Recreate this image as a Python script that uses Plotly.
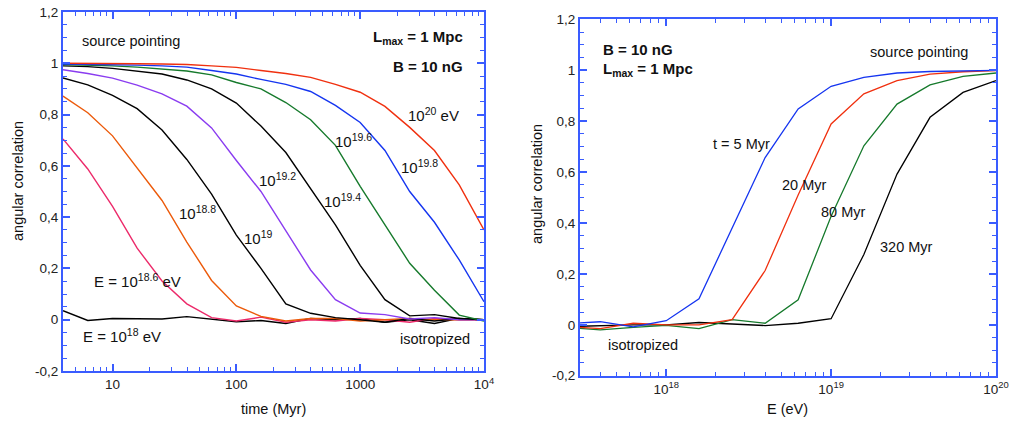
import plotly.graph_objects as go

# ---------------- data: left panel (angular correlation vs time) ----------------
times_myr = [3.98, 6.31, 10, 15.8, 25.1, 39.8, 63.1, 100, 158, 251, 398, 631,
             1000, 1585, 2512, 3981, 6310, 10000]

corr_e18_0 = [0.035, -0.003, 0.005, 0.005, 0.003, 0.012, 0.002, -0.008, -0.003, -0.015,
              0.005, 0.0, 0.005, -0.01, 0.0, -0.015, 0.005, 0.0]
corr_e18_6 = [0.705, 0.588, 0.442, 0.279, 0.151, 0.062, 0.008, -0.005, 0.01, -0.01,
              0.0, -0.005, 0.005, 0.0, -0.01, 0.005, 0.0, 0.0]
corr_e18_8 = [0.872, 0.807, 0.717, 0.592, 0.465, 0.303, 0.153, 0.054, 0.013, -0.005,
              0.005, 0.005, -0.005, 0.0, 0.005, 0.0, 0.0, 0.0]
corr_e19_0 = [0.943, 0.916, 0.875, 0.823, 0.74, 0.625, 0.49, 0.33, 0.20, 0.062,
              0.025, 0.008, 0.0, -0.01, 0.005, -0.005, 0.005, 0.0]
corr_e19_2 = [0.975, 0.96, 0.942, 0.915, 0.881, 0.833, 0.748, 0.621, 0.50, 0.345,
              0.194, 0.078, 0.026, 0.02, 0.003, 0.008, 0.0, 0.0]
corr_e19_4 = [0.99, 0.987, 0.98, 0.97, 0.958, 0.935, 0.9, 0.845, 0.755, 0.652,
              0.51, 0.37, 0.212, 0.078, 0.015, 0.02, 0.005, 0.0]
corr_e19_6 = [0.995, 0.993, 0.99, 0.985, 0.978, 0.97, 0.955, 0.925, 0.90, 0.847,
              0.78, 0.68, 0.52, 0.37, 0.22, 0.115, 0.018, -0.005]
corr_e19_8 = [0.997, 0.996, 0.995, 0.993, 0.99, 0.985, 0.972, 0.958, 0.937, 0.918,
              0.89, 0.836, 0.769, 0.66, 0.50, 0.38, 0.233, 0.07]
corr_e20_0 = [1.0, 1.0, 0.999, 0.998, 0.997, 0.995, 0.99, 0.984, 0.972, 0.96,
              0.945, 0.918, 0.887, 0.832, 0.75, 0.66, 0.526, 0.35]

# ---------------- data: right panel (angular correlation vs energy) ----------------
energies_ev = [2.51e17, 3.98e17, 6.31e17, 1e18, 1.58e18, 2.51e18, 3.98e18, 6.31e18,
               1e19, 1.58e19, 2.51e19, 3.98e19, 6.31e19, 1e20]

corr_t5 = [0.005, 0.012, -0.008, 0.016, 0.102, 0.38, 0.657, 0.848, 0.937, 0.972,
           0.989, 0.995, 0.998, 0.999]
corr_t20 = [-0.007, -0.015, 0.006, 0.0, 0.0, 0.02, 0.213, 0.51, 0.789, 0.907,
            0.959, 0.985, 0.994, 0.998]
corr_t80 = [-0.01, -0.02, -0.01, -0.002, -0.015, 0.02, 0.006, 0.098, 0.426, 0.703,
            0.867, 0.942, 0.976, 0.989]
corr_t320 = [-0.007, -0.003, 0.0, 0.0, 0.009, 0.003, -0.003, 0.006, 0.024, 0.276,
             0.592, 0.815, 0.913, 0.959]

y_tickvals = [-0.2, 0, 0.2, 0.4, 0.6, 0.8, 1, 1.2]
y_ticktext = ["-0,2", "0", "0,2", "0,4", "0,6", "0,8", "1", "1,2"]
t_tickvals = [10, 100, 1000, 10000]
t_ticktext = ["10", "100", "1000", "10<sup>4</sup>"]
e_tickvals = [1e18, 1e19, 1e20]
e_ticktext = ["10<sup>18</sup>", "10<sup>19</sup>", "10<sup>20</sup>"]

# ---------------- styling ----------------
W, H = 1024, 424
FONT = "Liberation Sans, Arial, Helvetica, sans-serif"
FRAME = "#3a5cff"
RED = "#f0300f"
BLUE = "#1535f0"
GREEN = "#167a2c"
PURPLE = "#8a3cf0"
ORANGE = "#ec5a0a"
PINK = "#ec2a6a"
BLACK = "#000000"


def px(x, y):
    return x / W, 1 - y / H


fig = go.Figure()

left_series = [
    (corr_e18_0, BLACK), (corr_e18_6, PINK), (corr_e18_8, ORANGE),
    (corr_e19_0, BLACK), (corr_e19_2, PURPLE), (corr_e19_4, BLACK),
    (corr_e19_6, GREEN), (corr_e19_8, BLUE), (corr_e20_0, RED),
]
for vals, col in left_series:
    fig.add_trace(go.Scatter(x=times_myr, y=vals, mode="lines",
                             line=dict(color=col, width=1.4),
                             xaxis="x", yaxis="y", showlegend=False))

right_series = [(corr_t320, BLACK), (corr_t80, GREEN), (corr_t20, RED), (corr_t5, BLUE)]
for vals, col in right_series:
    fig.add_trace(go.Scatter(x=energies_ev, y=vals, mode="lines",
                             line=dict(color=col, width=1.3),
                             xaxis="x2", yaxis="y2", showlegend=False))

t_minor = [m * 10.0 ** d for d in range(0, 4) for m in range(2, 10)]
e_minor = [m * 10.0 ** d for d in range(17, 20) for m in range(2, 10)]

common = dict(showline=True, linecolor=FRAME, linewidth=2, mirror="ticks",
              ticks="inside", ticklen=7, tickwidth=1.5, tickcolor=FRAME,
              showgrid=False, zeroline=False, automargin=False,
              tickfont=dict(family=FONT, size=13.5, color="#222"))

lx0, lx1, ly_top, ly_bot = 63, 484, 12, 371
rx0, rx1, ry_top, ry_bot = 580, 996, 19.3, 375.7

fig.update_layout(
    width=W, height=H,
    margin=dict(l=0, r=0, t=0, b=0),
    paper_bgcolor="white", plot_bgcolor="white",
    font=dict(family=FONT, size=14, color="#222"),
    xaxis=dict(type="log", range=[0.6, 4.0], domain=[lx0 / W, lx1 / W],
               anchor="y", tickmode="array", tickvals=t_tickvals, ticktext=t_ticktext,
               minor=dict(tickmode="array", tickvals=t_minor, ticks="inside", ticklen=4,
                          tickcolor=FRAME, tickwidth=1, showgrid=False),
               **common),
    yaxis=dict(range=[-0.2, 1.2], domain=[1 - ly_bot / H, 1 - ly_top / H],
               anchor="x", tickmode="array", tickvals=y_tickvals, ticktext=y_ticktext,
               minor=dict(dtick=0.05, ticks="inside", ticklen=4, tickcolor=FRAME,
                          tickwidth=1, showgrid=False),
               **common),
    xaxis2=dict(type="log", range=[17.477, 20.0], domain=[rx0 / W, rx1 / W],
                anchor="y2", tickmode="array", tickvals=e_tickvals, ticktext=e_ticktext,
                minor=dict(tickmode="array", tickvals=e_minor, ticks="inside", ticklen=4,
                           tickcolor=FRAME, tickwidth=1, showgrid=False),
                **common),
    yaxis2=dict(range=[-0.2, 1.2], domain=[1 - ry_bot / H, 1 - ry_top / H],
                anchor="x2", tickmode="array", tickvals=y_tickvals, ticktext=y_ticktext,
                minor=dict(dtick=0.05, ticks="inside", ticklen=4, tickcolor=FRAME,
                           tickwidth=1, showgrid=False),
                **common),
)

ann = []


def text(x, y, s, size=14.5, anchor="left", bold=False, angle=0):
    xx, yy = px(x, y)
    if bold:
        s = "<b>" + s + "</b>"
    ann.append(dict(x=xx, y=yy, xref="paper", yref="paper", text=s, showarrow=False,
                    xanchor=anchor, yanchor="middle", textangle=angle,
                    font=dict(family=FONT, size=size, color="#111")))


# axis titles
text(18, 181, "angular correlation", anchor="center", angle=-90)
text(273, 409, "time (Myr)", anchor="center")
text(537, 184, "angular correlation", anchor="center", angle=-90)
text(787, 409, "E (eV)", anchor="center")

# left panel labels
text(80, 41, "source pointing")
text(465, 37, "L<sub>max</sub> = 1 Mpc", size=15, anchor="right", bold=True)
text(465, 66, "B = 10 nG", size=15, anchor="right", bold=True)
text(406, 114, "10<sup>20</sup> eV", size=15)
text(333, 141, "10<sup>19.6</sup>", size=15)
text(399, 166, "10<sup>19.8</sup>", size=15)
text(257, 179, "10<sup>19.2</sup>", size=15)
text(322, 200, "10<sup>19.4</sup>", size=15)
text(177, 212, "10<sup>18.8</sup>", size=15)
text(242, 237, "10<sup>19</sup>", size=15)
text(92, 280, "E = 10<sup>18.6</sup> eV", size=15)
text(81, 335, "E = 10<sup>18</sup> eV", size=15)
text(472, 339, "isotropized", anchor="right")

# right panel labels
text(601, 49, "B = 10 nG", size=15, bold=True)
text(601, 69, "L<sub>max</sub> = 1 Mpc", size=15, bold=True)
text(970, 52, "source pointing", anchor="right")
text(711, 144, "t = 5 Myr")
text(780, 185, "20 Myr")
text(819, 212, "80 Myr")
text(878, 247, "320 Myr")
text(606, 345, "isotropized")

fig.update_layout(annotations=ann)
fig.write_html("out.html", config={"displayModeBar": False},
               post_script="document.body.style.margin='0px';document.body.style.padding='0px';")
